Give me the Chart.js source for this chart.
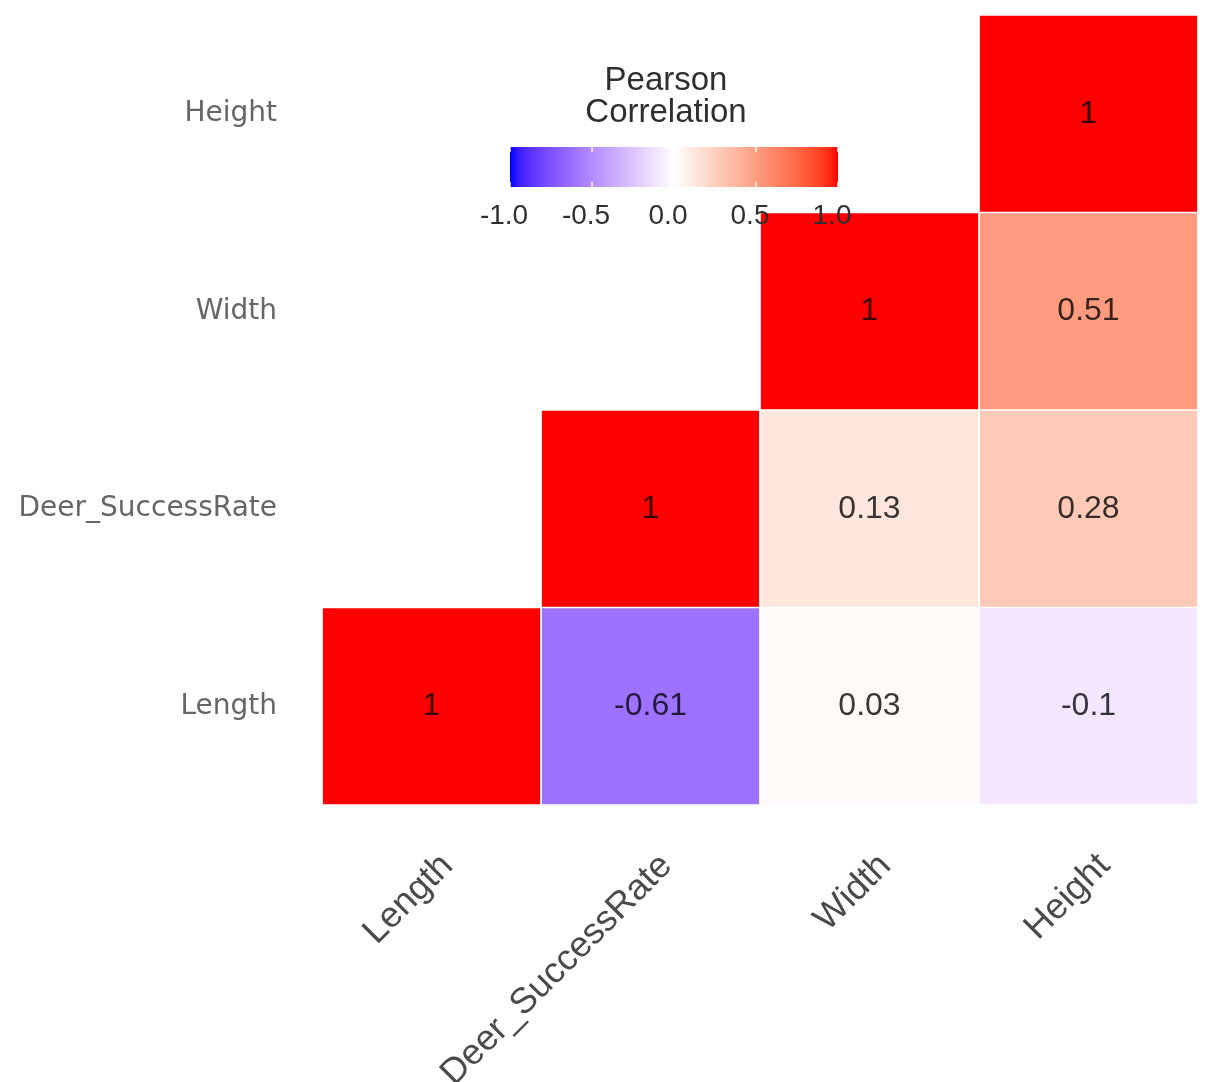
<!DOCTYPE html>
<html>
<head>
<meta charset="utf-8">
<script src="https://cdn.jsdelivr.net/npm/chart.js@4"></script>
<style>
  html, body { margin: 0; padding: 0; background: #ffffff; }
  #wrap { width: 1206px; height: 1082px; }
</style>
</head>
<body>
<div id="wrap"><canvas id="chart" width="1206" height="1082"></canvas></div>
<script>
// Variables shown on both axes (x: left to right, y: bottom to top)
const variables = ['Length', 'Deer_SuccessRate', 'Width', 'Height'];

// Upper-triangle Pearson correlations, one array per row (row variable vs. each column)
const rowLength = [1, -0.61, 0.03, -0.1];
const rowDeerSuccessRate = [null, 1, 0.13, 0.28];
const rowWidth = [null, null, 1, 0.51];
const rowHeight = [null, null, null, 1];
const correlationRows = [rowLength, rowDeerSuccessRate, rowWidth, rowHeight];

// Colour bar ticks
const legendTicks = [-1.0, -0.5, 0.0, 0.5, 1.0];
const legendTitle = ['Pearson', 'Correlation'];

// ---- diverging blue-white-red scale, interpolated in CIE Lab ----
function toLinear(c) { c /= 255; return c <= 0.04045 ? c / 12.92 : Math.pow((c + 0.055) / 1.055, 2.4); }
function fromLinear(c) { const v = c <= 0.0031308 ? 12.92 * c : 1.055 * Math.pow(c, 1 / 2.4) - 0.055; return Math.max(0, Math.min(255, Math.round(v * 255))); }
const WX = 0.95047, WY = 1.0, WZ = 1.08883;
function rgbToLab(rgb) {
  const r = toLinear(rgb[0]), g = toLinear(rgb[1]), b = toLinear(rgb[2]);
  const X = (0.4124 * r + 0.3576 * g + 0.1805 * b) / WX;
  const Y = (0.2126 * r + 0.7152 * g + 0.0722 * b) / WY;
  const Z = (0.0193 * r + 0.1192 * g + 0.9505 * b) / WZ;
  const f = t => t > 0.008856 ? Math.cbrt(t) : 7.787 * t + 16 / 116;
  const fx = f(X), fy = f(Y), fz = f(Z);
  return [116 * fy - 16, 500 * (fx - fy), 200 * (fy - fz)];
}
function labToRgb(lab) {
  const fy = (lab[0] + 16) / 116, fx = fy + lab[1] / 500, fz = fy - lab[2] / 200;
  const inv = t => t * t * t > 0.008856 ? t * t * t : (t - 16 / 116) / 7.787;
  const X = inv(fx) * WX, Y = inv(fy) * WY, Z = inv(fz) * WZ;
  const r = 3.2406 * X - 1.5372 * Y - 0.4986 * Z;
  const g = -0.9689 * X + 1.8758 * Y + 0.0415 * Z;
  const b = 0.0557 * X - 0.2040 * Y + 1.0570 * Z;
  return [fromLinear(r), fromLinear(g), fromLinear(b)];
}
const LAB_LOW = rgbToLab([0, 0, 255]);
const LAB_MID = rgbToLab([255, 255, 255]);
const LAB_HIGH = rgbToLab([255, 0, 0]);
function corrColor(v) {
  const end = v < 0 ? LAB_LOW : LAB_HIGH;
  const t = Math.min(1, Math.abs(v));
  const lab = LAB_MID.map((m, i) => m + (end[i] - m) * t);
  const c = labToRgb(lab);
  return `rgb(${c[0]},${c[1]},${c[2]})`;
}

// One floating-bar dataset per row: each cell spans [row, row + 1] on the y scale
const datasets = correlationRows.map((row, r) => ({
  label: variables[r],
  data: row.map(v => v === null ? null : [r, r + 1]),
  corr: row,
  backgroundColor: row.map(v => v === null ? 'rgba(0,0,0,0)' : corrColor(v)),
  borderColor: '#ffffff',
  borderWidth: 1.2,
  borderSkipped: false,
  grouped: false,
  barPercentage: 1,
  categoryPercentage: 1
}));

// Correlation value printed in the middle of each cell
const cellLabels = {
  id: 'cellLabels',
  afterDatasetsDraw(chart) {
    const { ctx, scales } = chart;
    ctx.save();
    ctx.font = '32px "Liberation Sans", Arial, sans-serif';
    ctx.fillStyle = 'rgba(0,0,0,0.78)';
    ctx.textAlign = 'center';
    ctx.textBaseline = 'middle';
    chart.data.datasets.forEach((ds, r) => {
      ds.corr.forEach((v, c) => {
        if (v === null) return;
        const x = scales.x.getPixelForValue(c);
        const y = scales.y.getPixelForValue(r + 0.5);
        ctx.fillText(String(v), x, y);
      });
    });
    ctx.restore();
  }
};

// Horizontal colour bar legend with title and ticks
const colorBar = {
  id: 'colorBar',
  afterDraw(chart) {
    const { ctx } = chart;
    const left = 510, right = 838, top = 147, bottom = 187;
    const xFor = v => left + (v + 1) / 2 * (right - left);
    ctx.save();
    ctx.fillStyle = '#2f2f2f';
    ctx.font = '33px "Liberation Sans", Arial, sans-serif';
    ctx.textAlign = 'center';
    ctx.textBaseline = 'alphabetic';
    ctx.fillText(legendTitle[0], 666, 90);
    ctx.fillText(legendTitle[1], 666, 122);

    const grad = ctx.createLinearGradient(left, 0, right, 0);
    for (let i = 0; i <= 40; i++) {
      const v = -1 + i / 20;
      grad.addColorStop(i / 40, corrColor(v));
    }
    ctx.fillStyle = grad;
    ctx.fillRect(left, top, right - left, bottom - top);

    ctx.strokeStyle = '#ffffff';
    ctx.lineWidth = 1.5;
    legendTicks.forEach(t => {
      const x = xFor(t);
      ctx.beginPath();
      ctx.moveTo(x, top); ctx.lineTo(x, top + 5);
      ctx.moveTo(x, bottom - 5); ctx.lineTo(x, bottom);
      ctx.stroke();
    });

    ctx.fillStyle = '#2f2f2f';
    ctx.font = '28px "Liberation Sans", Arial, sans-serif';
    ctx.textBaseline = 'middle';
    legendTicks.forEach(t => {
      ctx.fillText(t.toFixed(1), xFor(t) - 6, 216);
    });
    ctx.restore();
  }
};

new Chart(document.getElementById('chart'), {
  type: 'bar',
  data: { labels: variables, datasets },
  options: {
    responsive: false,
    animation: false,
    layout: { padding: { top: 15, right: 8, left: 0, bottom: 0 } },
    plugins: { legend: { display: false }, tooltip: { enabled: false } },
    scales: {
      x: {
        type: 'category',
        offset: true,
        grid: { display: false, drawTicks: false },
        border: { display: false },
        afterFit(scale) {
          scale.height = 277;
          scale.paddingLeft = 0; scale.paddingRight = 0;
          scale.paddingTop = 0; scale.paddingBottom = 0;
        },
        ticks: {
          autoSkip: false,
          minRotation: 45,
          maxRotation: 45,
          padding: 40,
          labelOffset: 16,
          color: '#4a4a4a',
          font: { family: '"Liberation Sans", Arial, sans-serif', size: 36 }
        }
      },
      y: {
        type: 'linear',
        min: 0,
        max: 4,
        grid: { display: false, drawTicks: false },
        border: { display: false },
        afterFit(scale) {
          scale.width = 322;
          scale.paddingLeft = 0; scale.paddingRight = 0;
          scale.paddingTop = 0; scale.paddingBottom = 0;
        },
        afterBuildTicks(scale) { scale.ticks = variables.map((_, i) => ({ value: i + 0.5 })); },
        ticks: {
          padding: 45,
          color: '#666666',
          font: { family: '"DejaVu Sans", sans-serif', size: 28 },
          callback: v => variables[Math.floor(v)]
        }
      }
    }
  },
  plugins: [cellLabels, colorBar]
});
</script>
</body>
</html>
